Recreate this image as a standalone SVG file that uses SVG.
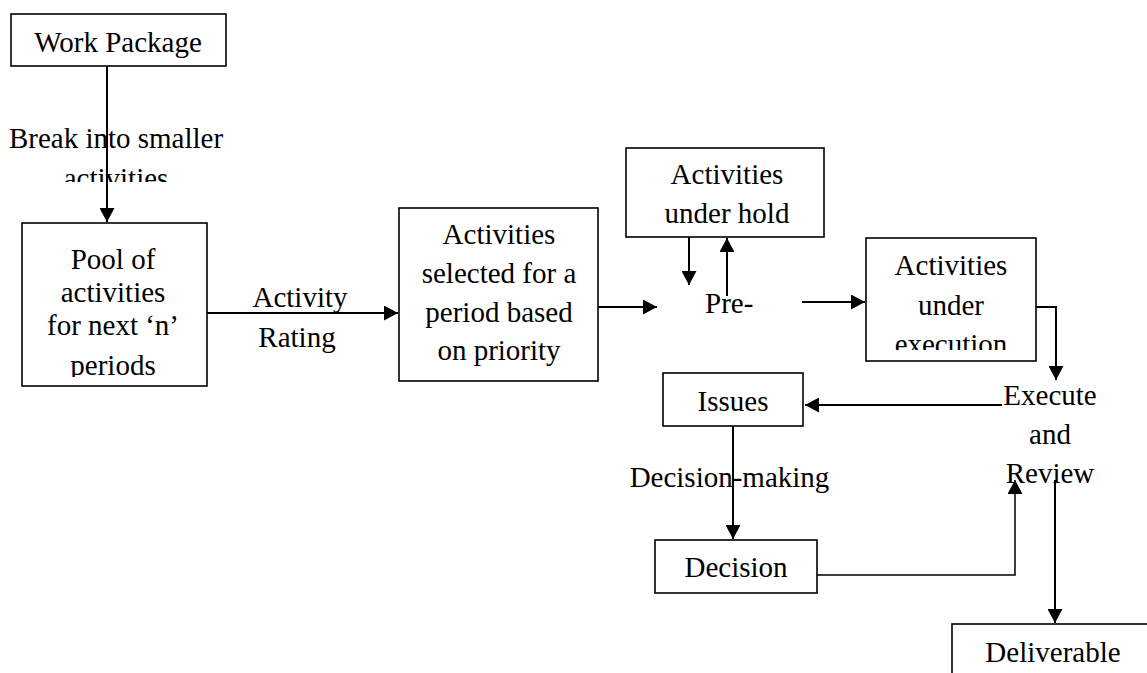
<svg xmlns="http://www.w3.org/2000/svg" width="1147" height="673" viewBox="0 0 1147 673">
<style>
.box{fill:#fff;stroke:#000;stroke-width:1.6}
.t{font-family:"Liberation Serif","Times New Roman",serif;font-size:29px;fill:#000;text-anchor:middle}
.c{fill:none;stroke:#000;stroke-width:2}
.thin{stroke-width:1.5}
</style>
<defs>
<marker id="ah" markerUnits="userSpaceOnUse" markerWidth="15" markerHeight="15" refX="14" refY="7.5" orient="auto">
<path d="M0,0 L14,7.5 L0,15 z" fill="#000"/>
</marker>
<clipPath id="clipBreak"><rect x="0" y="100" width="300" height="82"/></clipPath>
<clipPath id="clipPool"><rect x="0" y="230" width="220" height="147"/></clipPath>
<clipPath id="clipExec"><rect x="860" y="240" width="180" height="110"/></clipPath>
</defs>
<rect width="1147" height="673" fill="#fff"/>

<g id="work-package">
<rect class="box" x="11" y="14" width="215" height="52"/>
<text class="t" x="118" y="52">Work Package</text>
</g>

<g id="label-break" clip-path="url(#clipBreak)">
<text class="t" x="116" y="148">Break into smaller</text>
<text class="t" x="116" y="188">activities</text>
</g>

<g id="pool">
<rect class="box" x="22" y="223" width="185" height="163"/>
<g clip-path="url(#clipPool)">
<text class="t" x="113" y="269">Pool of</text>
<text class="t" x="113" y="302">activities</text>
<text class="t" x="113" y="335">for next ‘n’</text>
<text class="t" x="113" y="375">periods</text>
</g>
</g>

<g id="label-rating">
<text class="t" x="300" y="307">Activity</text>
<text class="t" x="297" y="347">Rating</text>
</g>

<g id="selected">
<rect class="box" x="399" y="208" width="199" height="173"/>
<text class="t" x="499" y="244">Activities</text>
<text class="t" x="499" y="283">selected for a</text>
<text class="t" x="499" y="322">period based</text>
<text class="t" x="499" y="360">on priority</text>
</g>

<g id="hold">
<rect class="box" x="626" y="148" width="198" height="89"/>
<text class="t" x="727" y="184">Activities</text>
<text class="t" x="727" y="223">under hold</text>
</g>

<g id="pre">
<text class="t" x="705" y="313" style="text-anchor:start">Pre-</text>
</g>

<g id="execution">
<rect class="box" x="866" y="238" width="170" height="123"/>
<text class="t" x="951" y="275">Activities</text>
<text class="t" x="951" y="315">under</text>
<g clip-path="url(#clipExec)"><text class="t" x="951" y="354">execution</text></g>
</g>

<g id="execute-review">
<text class="t" x="1050" y="405">Execute</text>
<text class="t" x="1050" y="444">and</text>
<text class="t" x="1050" y="483">Review</text>
</g>

<g id="issues">
<rect class="box" x="663" y="373" width="140" height="53"/>
<text class="t" x="733" y="411">Issues</text>
</g>

<g id="label-decision-making">
<text class="t" x="729.5" y="487">Decision-making</text>
</g>

<g id="decision">
<rect class="box" x="655" y="540" width="162" height="53"/>
<text class="t" x="736" y="577">Decision</text>
</g>

<g id="deliverable">
<rect class="box" x="952" y="624" width="220" height="80"/>
<text class="t" x="1053" y="662">Deliverable</text>
</g>

<g id="connectors">
<path class="c" d="M107,66 V222" marker-end="url(#ah)"/>
<path class="c" d="M207,313 H398" marker-end="url(#ah)"/>
<path class="c" d="M598,307 H657" marker-end="url(#ah)"/>
<path class="c" d="M689,237 V285" marker-end="url(#ah)"/>
<path class="c" d="M727,296 V238" marker-end="url(#ah)"/>
<path class="c" d="M802,302 H865" marker-end="url(#ah)"/>
<path class="c" d="M1036,307 H1056 V380" marker-end="url(#ah)"/>
<path class="c" d="M1002,405 H805" marker-end="url(#ah)"/>
<path class="c" d="M733,426 V539" marker-end="url(#ah)"/>
<path class="c thin" d="M817,575 H1015 V480" marker-end="url(#ah)"/>
<path class="c" d="M1055,480 V623" marker-end="url(#ah)"/>
</g>
</svg>
